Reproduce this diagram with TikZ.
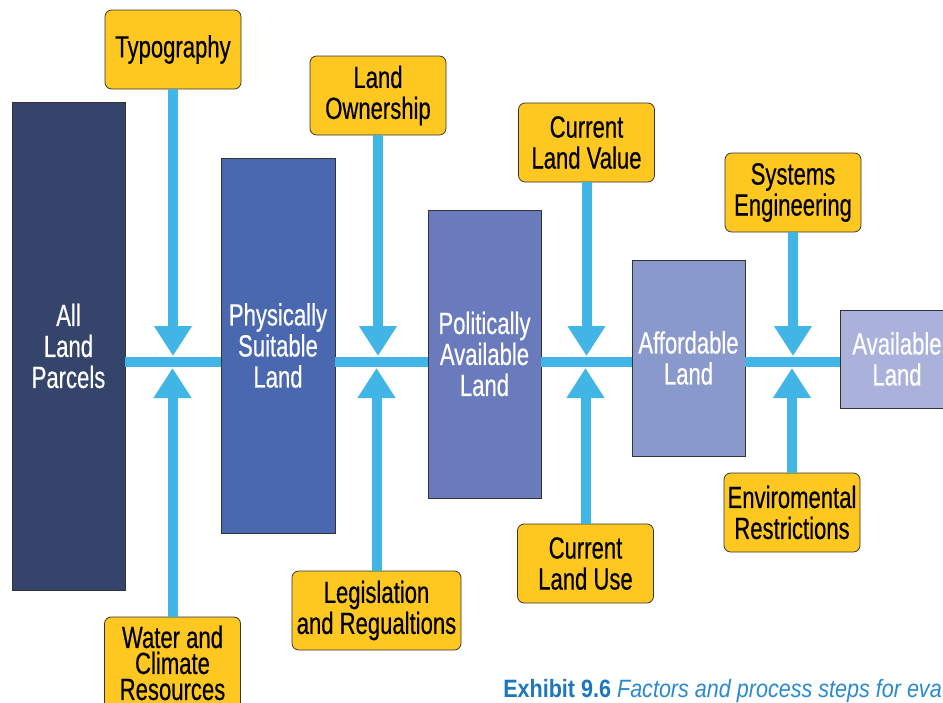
\documentclass[tikz,border=0pt]{standalone}
\usepackage{fontspec}
\usetikzlibrary{calc}
\usetikzlibrary{positioning}
\usetikzlibrary{arrows.meta}

\newfontfamily\boxfont[FakeStretch=0.72,FakeBold=0.4]{Liberation Sans}
\newfontfamily\capfont[FakeStretch=0.86]{Liberation Sans}

\definecolor{stageA}{HTML}{34446B}
\definecolor{stageB}{HTML}{4A68AF}
\definecolor{stageC}{HTML}{6A7BBD}
\definecolor{stageD}{HTML}{8A99CC}
\definecolor{stageE}{HTML}{AAB2DC}
\definecolor{factorfill}{HTML}{FEC821}
\definecolor{flowblue}{HTML}{41B6E6}
\definecolor{exhibitblue}{HTML}{1B77BE}
\definecolor{captionblue}{HTML}{2A8AD0}

\tikzset{
  stage/.style={draw=black!80, line width=0.6pt, text=white, align=center,
    inner sep=0pt, font=\boxfont\fontsize{23}{23.25}\selectfont},
  factor/.style={draw=black!80, line width=0.6pt, fill=factorfill, rounded corners=5pt,
    align=center, inner sep=0pt, minimum width=102pt, minimum height=59.25pt,
    font=\boxfont\fontsize{23}{23.25}\selectfont},
  flow/.style={draw=flowblue, line width=7.5pt},
}

\begin{document}
\begin{tikzpicture}[%
  x=0.75pt, y=-0.75pt,
  >={Triangle[width=27pt,length=22.5pt]},
]
  \useasboundingbox (0,0) rectangle (943,703);

  \coordinate (axis) at (0,362);
  \coordinate (tipdown) at (0,356);
  \coordinate (tipup) at (0,368);

  % stages
  \node[stage, fill=stageA, minimum width=84.75pt, minimum height=366pt]
    (parcels) at (68.5,346) {All\\Land\\Parcels};
  \node[stage, fill=stageB, minimum width=85.5pt, minimum height=281.25pt]
    (suitable) at (278,345.5) {Physically\\Suitable\\Land};
  \node[stage, fill=stageC, minimum width=84.75pt, minimum height=216pt]
    (political) at (484.5,354) {Politically\\Available\\Land};
  \node[stage, fill=stageD, minimum width=84.75pt, minimum height=147pt]
    (affordable) at (688.5,358) {Affordable\\Land};
  \node[stage, fill=stageE, minimum width=85.5pt, minimum height=73.5pt]
    (available) at (897,359) {Available\\Land};

  % factors
  \node[factor] (typo) at (173,49.5) {Typography};
  \node[factor] (owner) at (378,95.5) {Land\\Ownership};
  \node[factor] (value) at (586.5,142.5) {Current\\Land Value};
  \node[factor] (syseng) at (793,192.5) {Systems\\Engineering};

  \node[factor, minimum height=69pt, font=\boxfont\fontsize{23}{19.5}\selectfont]
    (water) at (172.5,663) {Water and\\Climate\\Resources};
  \node[factor, minimum width=126.75pt] (legis) at (376.5,610.5) {Legislation\\and Regualtions};
  \node[factor] (landuse) at (585.5,563.5) {Current\\Land Use};
  \node[factor] (enviro) at (792,512.5) {Enviromental\\Restrictions};

  % main flow between the stages
  \draw[flow] (parcels.east |- axis) -- (suitable.west |- axis);
  \draw[flow] (suitable.east |- axis) -- (political.west |- axis);
  \draw[flow] (political.east |- axis) -- (affordable.west |- axis);
  \draw[flow] (affordable.east |- axis) -- (available.west |- axis);

  \foreach \f in {typo,owner,value,syseng}
    \draw[flow,->,flowblue] (\f.south) -- (\f.south |- tipdown);
  \foreach \f in {water,legis,landuse,enviro}
    \draw[flow,->,flowblue] (\f.north) -- (\f.north |- tipup);

  \node[anchor=base west, inner sep=0pt, font=\capfont\fontsize{18.8}{22}\selectfont]
    (caption) at (503,697)
    {\textcolor{exhibitblue}{\bfseries Exhibit 9.6} \textcolor{captionblue}{\itshape Factors and process steps for eva}};

\end{tikzpicture}
\end{document}
